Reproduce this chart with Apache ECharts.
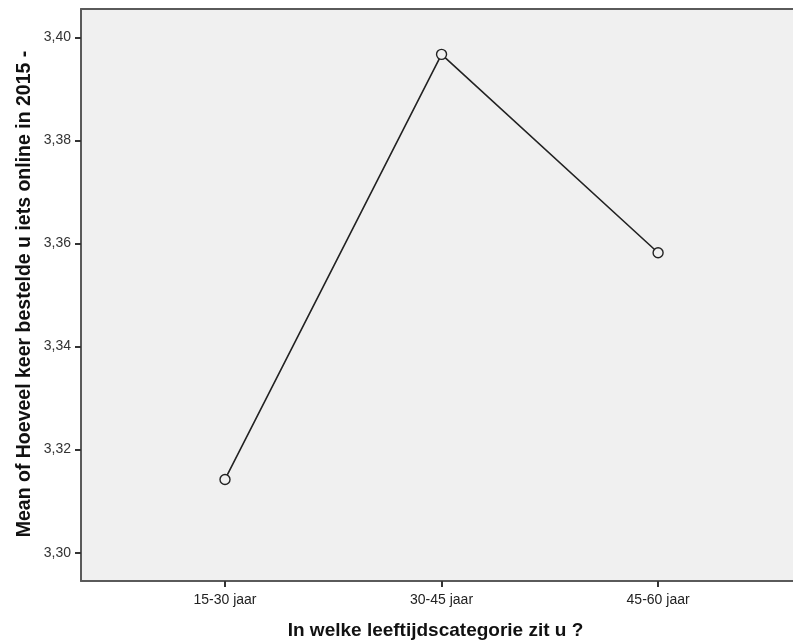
<!DOCTYPE html>
<html>
<head>
<meta charset="utf-8">
<script src="https://cdn.jsdelivr.net/npm/echarts@6/dist/echarts.min.js"></script>
<style>
  html, body { margin: 0; padding: 0; background: #fff; }
  #chart { width: 793px; height: 643px; }
</style>
</head>
<body>
<div id="chart"></div>
<script>
// Age groups and mean number of online orders in 2015
const categories = ['15-30 jaar', '30-45 jaar', '45-60 jaar'];
const means = [3.3142, 3.3967, 3.3582];
const yTicks = [3.30, 3.32, 3.34, 3.36, 3.38, 3.40];
const xTicks = [1, 2, 3];

const yTitle = 'Mean of Hoeveel keer bestelde u iets online in 2015 -';
const xTitle = 'In welke leeftijdscategorie zit u ?';

const points = means.map((v, i) => [xTicks[i], v]);

const chart = echarts.init(document.getElementById('chart'), null, { renderer: 'canvas' });
const font = 'Liberation Sans, Arial, sans-serif';
const frame = { color: '#5a5a5a', width: 2 };
const tickStyle = { color: '#333333', width: 2 };

chart.setOption({
  animation: false,
  backgroundColor: '#ffffff',
  grid: {
    left: 81, top: 9, right: 0, bottom: 62,
    show: true, backgroundColor: '#f0f0f0', borderWidth: 0
  },
  xAxis: [{
    type: 'value',
    min: 0.335, max: 3.623,
    axisLine: { show: true, onZero: false, lineStyle: frame },
    axisTick: { show: true, customValues: xTicks, length: 6, lineStyle: tickStyle },
    axisLabel: {
      show: true, customValues: xTicks, margin: 12,
      color: '#222222', fontSize: 14, fontFamily: font,
      formatter: v => categories[Math.round(v) - 1]
    },
    splitLine: { show: false }
  }, {
    // top edge of the plot frame
    type: 'value',
    position: 'top',
    min: 0.335, max: 3.623,
    axisLine: { show: true, onZero: false, lineStyle: frame },
    axisTick: { show: false },
    axisLabel: { show: false },
    splitLine: { show: false }
  }],
  yAxis: {
    type: 'value',
    min: 3.2945, max: 3.4055,
    axisLine: { show: true, lineStyle: frame },
    axisTick: { show: true, customValues: yTicks, length: 6, lineStyle: tickStyle },
    axisLabel: {
      show: true, customValues: yTicks, margin: 10,
      color: '#333333', fontSize: 14, fontFamily: font,
      formatter: v => v.toFixed(2).replace('.', ',')
    },
    splitLine: { show: false }
  },
  graphic: [{
    type: 'text',
    x: 435.5, y: 631,
    style: {
      text: xTitle,
      align: 'center', verticalAlign: 'middle',
      font: 'bold 19px ' + font,
      fill: '#111111'
    }
  }, {
    type: 'text',
    x: 25, y: 294,
    rotation: Math.PI / 2,
    style: {
      text: yTitle,
      align: 'center', verticalAlign: 'middle',
      font: 'bold 19.5px ' + font,
      fill: '#111111'
    }
  }],
  series: [{
    type: 'line',
    xAxisIndex: 0,
    data: points,
    symbol: 'circle',
    symbolSize: 10,
    showSymbol: true,
    lineStyle: { color: '#222222', width: 1.6 },
    itemStyle: { color: '#f0f0f0', borderColor: '#222222', borderWidth: 1.4 }
  }]
});
</script>
</body>
</html>
